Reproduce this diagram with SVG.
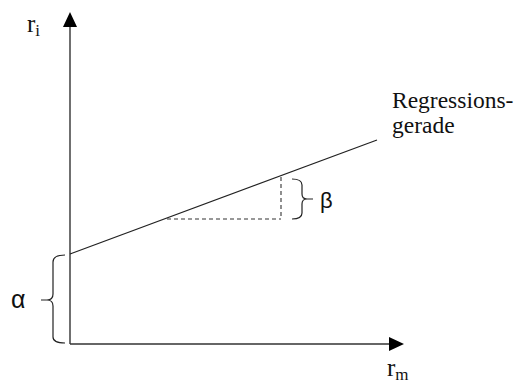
<svg xmlns="http://www.w3.org/2000/svg" width="525" height="383" viewBox="0 0 525 383">
<style>
.ax{stroke:#333;stroke-width:1.4;fill:none}
.ln{stroke:#222;stroke-width:1.2;fill:none}
.dash{stroke:#333;stroke-width:1.1;fill:none;stroke-dasharray:4,3}
.ser{font-family:"Liberation Serif","Times New Roman",serif;fill:#111}
.gr{font-family:"Liberation Sans",Arial,sans-serif;fill:#111}
</style>
<rect width="525" height="383" fill="#fff"/>
<g id="axes">
<line class="ax" x1="70" y1="344" x2="70" y2="26"/>
<polygon points="63,27 77,27 70,12" fill="#000"/>
<line class="ax" x1="70" y1="344" x2="390" y2="344"/>
<polygon points="389,337 389,351 404,344" fill="#000"/>
</g>
<g id="labels">
<text class="ser" x="27" y="32" font-size="25">r<tspan font-size="17" dy="4">i</tspan></text>
<text class="ser" x="387" y="376" font-size="25">r<tspan font-size="17" dy="4">m</tspan></text>
<text class="ser" x="392" y="108" font-size="23.5">Regressions-</text>
<text class="ser" x="392" y="133" font-size="23.5">gerade</text>
</g>
<g id="connectors">
<line class="ln" x1="70" y1="254" x2="377" y2="140"/>
<line class="dash" x1="281" y1="177" x2="281" y2="219"/>
<line class="dash" x1="167" y1="219" x2="281" y2="219"/>
</g>
<g id="beta">
<path class="ln" d="M292,179 Q302,179 302,185 L302,194 Q302,199 307,199 L313,199 M307,199 Q302,199 302,204 L302,213 Q302,219 292,219"/>
<text class="gr" x="320" y="208" font-size="22">β</text>
</g>
<g id="alpha">
<path class="ln" d="M65,255 Q53,255 53,262 L53,294 Q53,300 47,300 L41,300 M47,300 Q53,300 53,306 L53,337 Q53,343 65,343"/>
<text class="gr" x="11" y="308" font-size="25">α</text>
</g>
</svg>
